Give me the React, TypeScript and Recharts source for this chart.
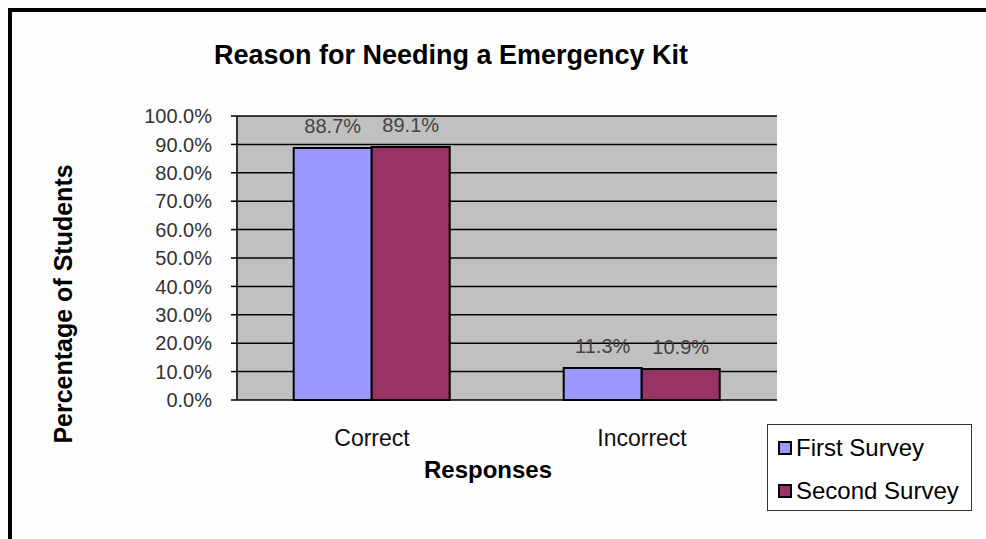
import React from 'react';
import {
  BarChart,
  Bar,
  XAxis,
  YAxis,
  CartesianGrid,
  Legend,
  LabelList,
  ReferenceArea,
} from 'recharts';

const categories = ['Correct', 'Incorrect'];
const firstSurvey = [88.7, 11.3];
const secondSurvey = [89.1, 10.9];
const yTicks = [0, 10, 20, 30, 40, 50, 60, 70, 80, 90, 100];
const edgeTicks = [0, 1, 2];

const FONT = '"Liberation Sans", Arial, sans-serif';
const FIRST_COLOR = '#9999ff';
const SECOND_COLOR = '#993366';

const data = categories.map((name, i) => ({
  name,
  first: firstSurvey[i],
  second: secondSurvey[i],
}));

const pct = (v: number) => `${Number(v).toFixed(1)}%`;

function SurveyLegend() {
  const items = [
    { label: 'First Survey', color: FIRST_COLOR },
    { label: 'Second Survey', color: SECOND_COLOR },
  ];
  return (
    <div
      style={{
        width: 205,
        height: 87,
        boxSizing: 'border-box',
        border: '1px solid #333',
        background: '#fff',
        padding: '1px 0 0 10px',
        fontFamily: FONT,
        fontSize: 24,
        color: '#000',
      }}
    >
      {items.map((it) => (
        <div key={it.label} style={{ display: 'flex', alignItems: 'center', height: 43 }}>
          <span
            style={{
              display: 'inline-block',
              width: 10,
              height: 10,
              background: it.color,
              border: '2px solid #000',
              marginRight: 4,
            }}
          />
          {it.label}
        </div>
      ))}
    </div>
  );
}

export default function App() {
  return (
    <div
      style={{
        position: 'absolute',
        left: 0,
        top: 0,
        width: 986,
        height: 539,
        background: '#fdfdfd',
        overflow: 'hidden',
      }}
    >
      <BarChart
        width={986}
        height={539}
        data={data}
        margin={{ top: 116, right: 209, bottom: 79, left: 147 }}
        barCategoryGap="21%"
        barGap={0}
      >
        <CartesianGrid
          xAxisId="edge"
          vertical={false}
          fill="#c0c0c0"
          fillOpacity={1}
          stroke="#000"
          strokeWidth={1.5}
        />
        <ReferenceArea
          xAxisId="edge"
          x1={0}
          x2={2}
          y1={0}
          y2={100}
          fill="none"
          stroke="#808080"
          strokeWidth={2}
        />
        <XAxis
          xAxisId="edge"
          type="number"
          domain={[0, 2]}
          ticks={edgeTicks}
          tick={false}
          height={0}
          tickSize={7}
          axisLine={{ stroke: '#000', strokeWidth: 2 }}
          tickLine={{ stroke: '#000', strokeWidth: 1.5 }}
        />
        <XAxis
          xAxisId="cat"
          dataKey="name"
          height={60}
          axisLine={false}
          tickLine={false}
          tickSize={0}
          tickMargin={30}
          tick={{ fill: '#111', fontSize: 23, fontFamily: FONT }}
        />
        <YAxis
          width={90}
          domain={[0, 100]}
          ticks={yTicks}
          tickFormatter={pct}
          tickSize={6}
          tickMargin={19}
          axisLine={{ stroke: '#333', strokeWidth: 2 }}
          tickLine={{ stroke: '#000', strokeWidth: 1.5 }}
          tick={{ fill: '#333', fontSize: 20, fontFamily: FONT }}
        />
        <Legend
          layout="vertical"
          verticalAlign="middle"
          align="center"
          content={<SurveyLegend />}
          wrapperStyle={{ left: 767, top: 424, width: 205, height: 87 }}
        />
        <Bar
          xAxisId="cat"
          dataKey="first"
          name="First Survey"
          fill={FIRST_COLOR}
          stroke="#000"
          strokeWidth={2}
          isAnimationActive={false}
        >
          <LabelList
            dataKey="first"
            position="top"
            offset={15}
            formatter={pct}
            fill="#444"
            fontSize={20}
            fontFamily={FONT}
          />
        </Bar>
        <Bar
          xAxisId="cat"
          dataKey="second"
          name="Second Survey"
          fill={SECOND_COLOR}
          stroke="#000"
          strokeWidth={2}
          isAnimationActive={false}
        >
          <LabelList
            dataKey="second"
            position="top"
            offset={15}
            formatter={pct}
            fill="#444"
            fontSize={20}
            fontFamily={FONT}
          />
        </Bar>
      </BarChart>

      {/* chart title and axis titles */}
      <div
        style={{
          position: 'absolute',
          left: 451,
          top: 55,
          transform: 'translate(-50%, -50%)',
          whiteSpace: 'nowrap',
          fontFamily: FONT,
          fontWeight: 'bold',
          fontSize: 27,
          color: '#000',
        }}
      >
        Reason for Needing a Emergency Kit
      </div>
      <div
        style={{
          position: 'absolute',
          left: 488,
          top: 470,
          transform: 'translate(-50%, -50%)',
          whiteSpace: 'nowrap',
          fontFamily: FONT,
          fontWeight: 'bold',
          fontSize: 24,
          color: '#000',
        }}
      >
        Responses
      </div>
      <div
        style={{
          position: 'absolute',
          left: 63,
          top: 304,
          transform: 'translate(-50%, -50%) rotate(-90deg)',
          whiteSpace: 'nowrap',
          fontFamily: FONT,
          fontWeight: 'bold',
          fontSize: 25,
          color: '#000',
        }}
      >
        Percentage of Students
      </div>

      {/* frame lines */}
      <div style={{ position: 'absolute', left: 8, top: 8, width: 978, height: 4, background: '#000' }} />
      <div style={{ position: 'absolute', left: 8, top: 8, width: 4, height: 531, background: '#000' }} />
    </div>
  );
}
